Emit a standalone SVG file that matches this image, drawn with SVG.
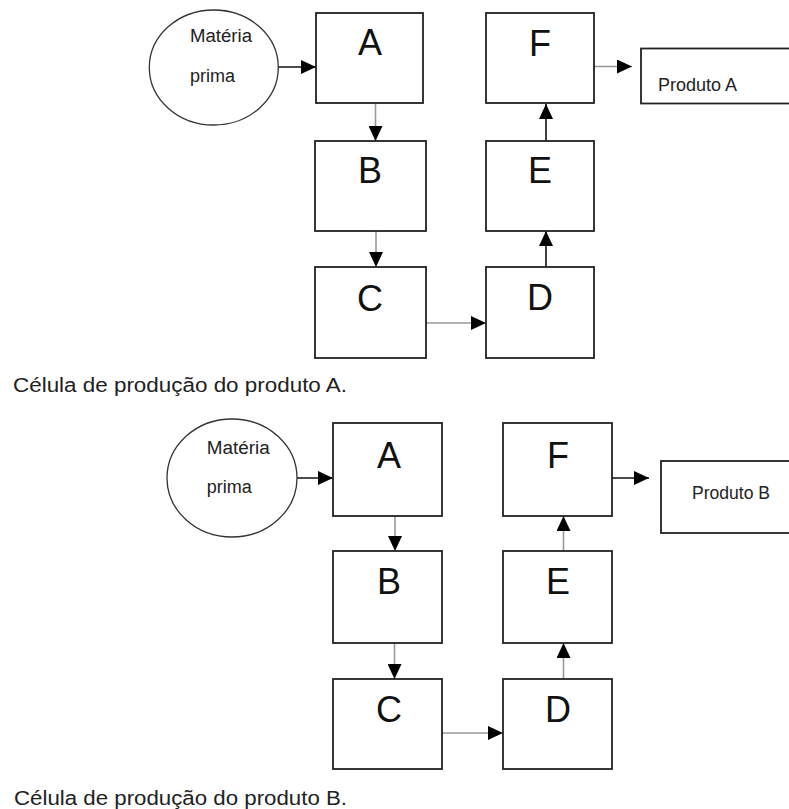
<svg xmlns="http://www.w3.org/2000/svg" width="789" height="809" viewBox="0 0 789 809">
<style>
.box{fill:#fff;stroke:#222;stroke-width:1.8}
.ell{fill:#fff;stroke:#333;stroke-width:1.3}
.big{font-family:"Liberation Sans",Arial,sans-serif;font-size:36px;fill:#111;text-anchor:middle}
.sm{font-family:"Liberation Sans",Arial,sans-serif;font-size:18px;fill:#222}
.cap{font-family:"Liberation Sans",Arial,sans-serif;font-size:20px;fill:#222}
.k{fill:none;stroke:#111;stroke-width:1.6}
.g{fill:none;stroke:#999;stroke-width:1.6}
</style>
<defs>
<marker id="ah" viewBox="0 0 15 14" refX="15" refY="7" markerWidth="15" markerHeight="14" markerUnits="userSpaceOnUse" orient="auto">
<path d="M0,0 L15,7 L0,14 z" fill="#000"/>
</marker>
</defs>
<rect width="789" height="809" fill="#fff"/>

<g id="connectors">
<path class="k" d="M278,67 L316,67" marker-end="url(#ah)"/>
<path class="g" d="M375.5,104 L375.5,141" marker-end="url(#ah)"/>
<path class="g" d="M376,231 L376,267" marker-end="url(#ah)"/>
<path class="g" d="M426,323 L486,323" marker-end="url(#ah)"/>
<path class="k" d="M546,267 L546,231" marker-end="url(#ah)"/>
<path class="k" d="M546,141 L546,104" marker-end="url(#ah)"/>
<path class="g" d="M594,66.5 L632,66.5" marker-end="url(#ah)"/>

<path class="k" d="M297,478 L333,478" marker-end="url(#ah)"/>
<path class="g" d="M395,516 L395,551" marker-end="url(#ah)"/>
<path class="g" d="M394.5,643 L394.5,679" marker-end="url(#ah)"/>
<path class="g" d="M442,733 L503,733" marker-end="url(#ah)"/>
<path class="g" d="M563.5,679 L563.5,643" marker-end="url(#ah)"/>
<path class="g" d="M563.5,551 L563.5,516" marker-end="url(#ah)"/>
<path class="k" d="M612,478 L649,478" marker-end="url(#ah)"/>
</g>

<g id="cellA">
<g id="a-materia">
<ellipse class="ell" cx="213.8" cy="67.5" rx="64.5" ry="57.5"/>
<text class="sm" x="190" y="42" textLength="62" lengthAdjust="spacingAndGlyphs">Matéria</text>
<text class="sm" x="190" y="82">prima</text>
</g>
<g id="a-A"><rect class="box" x="316" y="13" width="107" height="90"/><text class="big" x="370" y="55">A</text></g>
<g id="a-B"><rect class="box" x="315" y="141" width="111" height="90"/><text class="big" x="370" y="183">B</text></g>
<g id="a-C"><rect class="box" x="315" y="267" width="111" height="91"/><text class="big" x="370" y="311">C</text></g>
<g id="a-D"><rect class="box" x="486" y="267" width="108" height="91"/><text class="big" x="540" y="310">D</text></g>
<g id="a-E"><rect class="box" x="486" y="141" width="108" height="90"/><text class="big" x="540" y="183">E</text></g>
<g id="a-F"><rect class="box" x="486" y="13" width="108" height="90"/><text class="big" x="540" y="56">F</text></g>
<g id="a-produto"><rect class="box" x="641" y="48.5" width="170" height="55"/><text class="sm" x="658" y="91" textLength="79" lengthAdjust="spacingAndGlyphs">Produto A</text></g>
<text id="caption-a" class="cap" x="13" y="392" textLength="334" lengthAdjust="spacingAndGlyphs">Célula de produção do produto A.</text>
</g>

<g id="cellB">
<g id="b-materia">
<ellipse class="ell" cx="232" cy="478" rx="65" ry="59"/>
<text class="sm" x="206.7" y="454" textLength="63" lengthAdjust="spacingAndGlyphs">Matéria</text>
<text class="sm" x="206.7" y="493">prima</text>
</g>
<g id="b-A"><rect class="box" x="333" y="423" width="109" height="93"/><text class="big" x="389" y="468">A</text></g>
<g id="b-B"><rect class="box" x="333" y="551" width="109" height="92"/><text class="big" x="389" y="594">B</text></g>
<g id="b-C"><rect class="box" x="333" y="679" width="109" height="90"/><text class="big" x="389" y="722">C</text></g>
<g id="b-D"><rect class="box" x="503" y="679" width="109" height="90"/><text class="big" x="558" y="722">D</text></g>
<g id="b-E"><rect class="box" x="503" y="551" width="109" height="92"/><text class="big" x="558" y="594">E</text></g>
<g id="b-F"><rect class="box" x="503" y="423" width="109" height="93"/><text class="big" x="558" y="468">F</text></g>
<g id="b-produto"><rect class="box" x="661" y="461" width="150" height="72"/><text class="sm" x="692" y="499" textLength="78" lengthAdjust="spacingAndGlyphs">Produto B</text></g>
<text id="caption-b" class="cap" x="14" y="805" textLength="333" lengthAdjust="spacingAndGlyphs">Célula de produção do produto B.</text>
</g>
</svg>
